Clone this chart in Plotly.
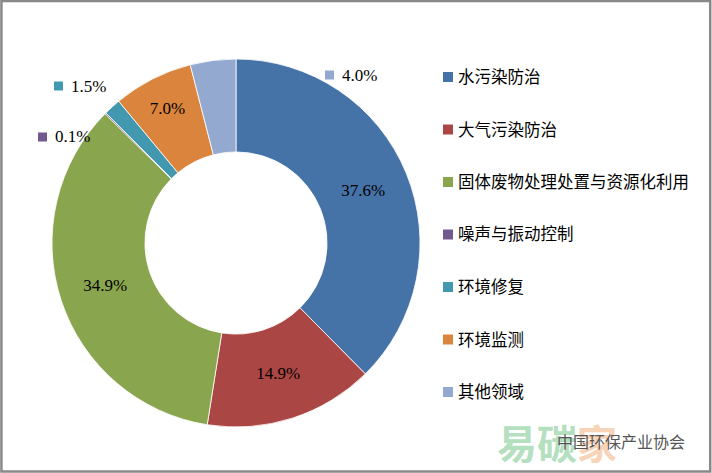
import plotly.graph_objects as go

categories = ["水污染防治", "大气污染防治", "固体废物处理处置与资源化利用", "噪声与振动控制", "环境修复", "环境监测", "其他领域"]
values = [37.6, 14.9, 34.9, 0.1, 1.5, 7.0, 4.0]
colors = ["#4572A7", "#AA4643", "#89A54E", "#71588F", "#4198AF", "#DB843D", "#93A9CF"]
inside = [True, True, True, False, False, True, False]

W, H = 712, 473

def px(x):
    return x / W

def py(y):
    return 1 - y / H

labels_txt = [f"{v:.1f}%" for v in values]

fig = go.Figure()
fig.add_trace(go.Pie(
    labels=categories,
    values=values,
    sort=False,
    direction="clockwise",
    rotation=0,
    hole=0.495,
    marker=dict(colors=colors, line=dict(color="white", width=0.8)),
    text=[t if ins else "" for t, ins in zip(labels_txt, inside)],
    textinfo="text",
    textposition=["inside" if ins else "none" for ins in inside],
    insidetextorientation="horizontal",
    textfont=dict(family="Liberation Serif", size=17, color="black"),
    domain=dict(x=[px(52), px(420)], y=[py(427), py(59)]),
    showlegend=False,
    hoverinfo="label+percent",
))

shapes = []
annotations = []

# outside labels with colour keys
outside_pos = {3: (38, 137), 4: (54, 86), 6: (325, 75)}
for i, (x, y) in outside_pos.items():
    shapes.append(dict(type="rect", xref="paper", yref="paper",
                       x0=px(x), x1=px(x + 9), y0=py(y + 4.5), y1=py(y - 4.5),
                       fillcolor=colors[i], line=dict(width=0)))
    annotations.append(dict(x=px(x + 15), y=py(y), xref="paper", yref="paper",
                            text=labels_txt[i], showarrow=False, xanchor="left", yanchor="middle",
                            font=dict(family="Liberation Serif", size=17, color="black")))

# legend
y0, step = 77, 52.5
for i, cat in enumerate(categories):
    y = y0 + i * step
    shapes.append(dict(type="rect", xref="paper", yref="paper",
                       x0=px(443), x1=px(453), y0=py(y + 5), y1=py(y - 5),
                       fillcolor=colors[i], line=dict(width=0)))
    annotations.append(dict(x=px(456), y=py(y - 1), xref="paper", yref="paper",
                            text=cat, showarrow=False, xanchor="left", yanchor="middle",
                            font=dict(family="Noto Sans CJK SC", size=16.5, color="black")))

# watermark
annotations.append(dict(x=px(495), y=py(442), xref="paper", yref="paper",
                        text="<b><span style='color:#b4e0bf'>易碳</span><span style='color:#f8d3b8'>家</span></b>",
                        showarrow=False, xanchor="left", yanchor="middle",
                        font=dict(family="Noto Sans CJK SC", size=40)))
annotations.append(dict(x=px(555), y=py(441), xref="paper", yref="paper",
                        text="中国环保产业协会", showarrow=False, xanchor="left", yanchor="middle",
                        font=dict(family="Noto Sans CJK SC", size=16, color="#555555")))

# border
shapes.append(dict(type="rect", xref="paper", yref="paper", x0=0.002, x1=0.9975, y0=0.003, y1=0.998,
                   line=dict(color="#898989", width=2.5), fillcolor="rgba(0,0,0,0)"))

fig.update_layout(
    width=W, height=H,
    margin=dict(l=0, r=0, t=0, b=0),
    paper_bgcolor="white",
    plot_bgcolor="white",
    shapes=shapes,
    annotations=annotations,
)

fig.write_html("out.html", config={"displayModeBar": False},
               post_script="document.body.style.margin='0px';document.body.style.overflow='hidden';")
